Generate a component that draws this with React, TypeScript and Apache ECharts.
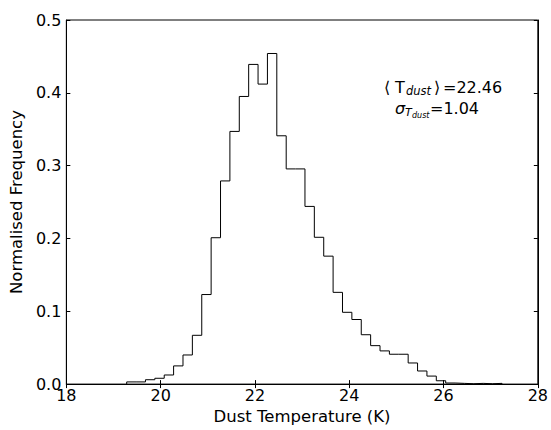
import React, { useEffect, useRef } from "react";
import * as echarts from "echarts";

// Histogram: 40 bins starting at binStart, each binWidth wide (K)
const binStart = 19.28;
const binWidth = 0.199;
const freq = [
  0.003, 0.003, 0.006, 0.008, 0.0125, 0.025, 0.04, 0.067, 0.123, 0.201,
  0.279, 0.347, 0.395, 0.439, 0.412, 0.454, 0.341, 0.2955, 0.2955, 0.244,
  0.2016, 0.1757, 0.126, 0.0986, 0.0887, 0.0678, 0.0528, 0.0456, 0.041, 0.041,
  0.029, 0.018, 0.011, 0.0046, 0.0015, 0.001, 0.0005, 0.001, 0.0005, 0.001,
];
const xMin = 18;
const xMax = 28;
const xStep = 2;
const yMin = 0;
const yMax = 0.5;
const yStep = 0.1;
const meanLabel = "=22.46";
const sigmaLabel = "=1.04";

const FONT = "DejaVu Sans";

export default function App() {
  const ref = useRef<HTMLDivElement>(null);
  useEffect(() => {
    document.body.style.margin = "0";
    if (!ref.current) return;
    const chart = echarts.init(ref.current, null, { renderer: "svg" });
    const pts: number[][] = [];
    const edge = (k: number) => binStart + k * binWidth;
    pts.push([edge(0), 0]);
    freq.forEach((v, i) => pts.push([edge(i), v]));
    pts.push([edge(freq.length), freq[freq.length - 1]]);
    pts.push([edge(freq.length), 0]);

    const tickStyle = { show: true, inside: true, length: 4, lineStyle: { color: "#000", width: 1 } };
    const lineStyle = { show: true, lineStyle: { color: "#000", width: 1 } };

    const txt = (text: string, x: number, y: number, size: number, italic = false) => ({
      type: "text",
      x,
      y,
      style: {
        text,
        fontFamily: FONT,
        fontSize: size,
        fontStyle: italic ? "italic" : "normal",
        fill: "#000",
        verticalAlign: "middle",
        align: "left",
      },
    });

    chart.setOption({
      animation: false,
      backgroundColor: "#fff",
      grid: { left: 63, right: 13, top: 20, bottom: 43, show: true, borderColor: "#000", borderWidth: 1 },
      xAxis: [
        {
          type: "value",
          min: xMin,
          max: xMax,
          interval: xStep,
          position: "bottom",
          name: "Dust Temperature (K)",
          nameLocation: "middle",
          nameGap: 21,
          nameTextStyle: { fontFamily: FONT, fontSize: 16.5, color: "#000", verticalAlign: "top" },
          axisLine: lineStyle,
          axisTick: tickStyle,
          splitLine: { show: false },
          axisLabel: { fontFamily: FONT, fontSize: 16, color: "#000", margin: 3 },
        },
        {
          type: "value",
          min: xMin,
          max: xMax,
          interval: xStep,
          position: "top",
          axisLine: lineStyle,
          axisTick: tickStyle,
          splitLine: { show: false },
          axisLabel: { show: false },
        },
      ],
      yAxis: [
        {
          type: "value",
          min: yMin,
          max: yMax,
          interval: yStep,
          position: "left",
          name: "Normalised Frequency",
          nameLocation: "middle",
          nameGap: 36,
          nameTextStyle: { fontFamily: FONT, fontSize: 16.5, color: "#000" },
          axisLine: lineStyle,
          axisTick: tickStyle,
          splitLine: { show: false },
          axisLabel: {
            fontFamily: FONT,
            fontSize: 16,
            color: "#000",
            margin: 5,
            formatter: (v: number) => v.toFixed(1),
          },
        },
        {
          type: "value",
          min: yMin,
          max: yMax,
          interval: yStep,
          position: "right",
          axisLine: lineStyle,
          axisTick: tickStyle,
          splitLine: { show: false },
          axisLabel: { show: false },
        },
      ],
      series: [
        {
          type: "line",
          data: pts,
          step: "end",
          symbol: "none",
          lineStyle: { color: "#000", width: 1 },
          silent: true,
        },
      ],
      graphic: [
        txt("\u27E8", 384, 87, 16),
        txt("T", 395, 87, 16),
        txt("dust", 406, 91, 11.5, true),
        txt("\u27E9", 434, 87, 16),
        txt(meanLabel, 443, 87, 16),
        txt("\u03C3", 395, 108, 16, true),
        txt("T", 405, 112, 11, true),
        txt("dust", 412, 115, 8, true),
        txt(sigmaLabel, 430, 108, 16),
      ],
    });
    return () => chart.dispose();
  }, []);
  return <div ref={ref} style={{ width: 551, height: 430, position: "absolute", left: 0, top: 0 }} />;
}
